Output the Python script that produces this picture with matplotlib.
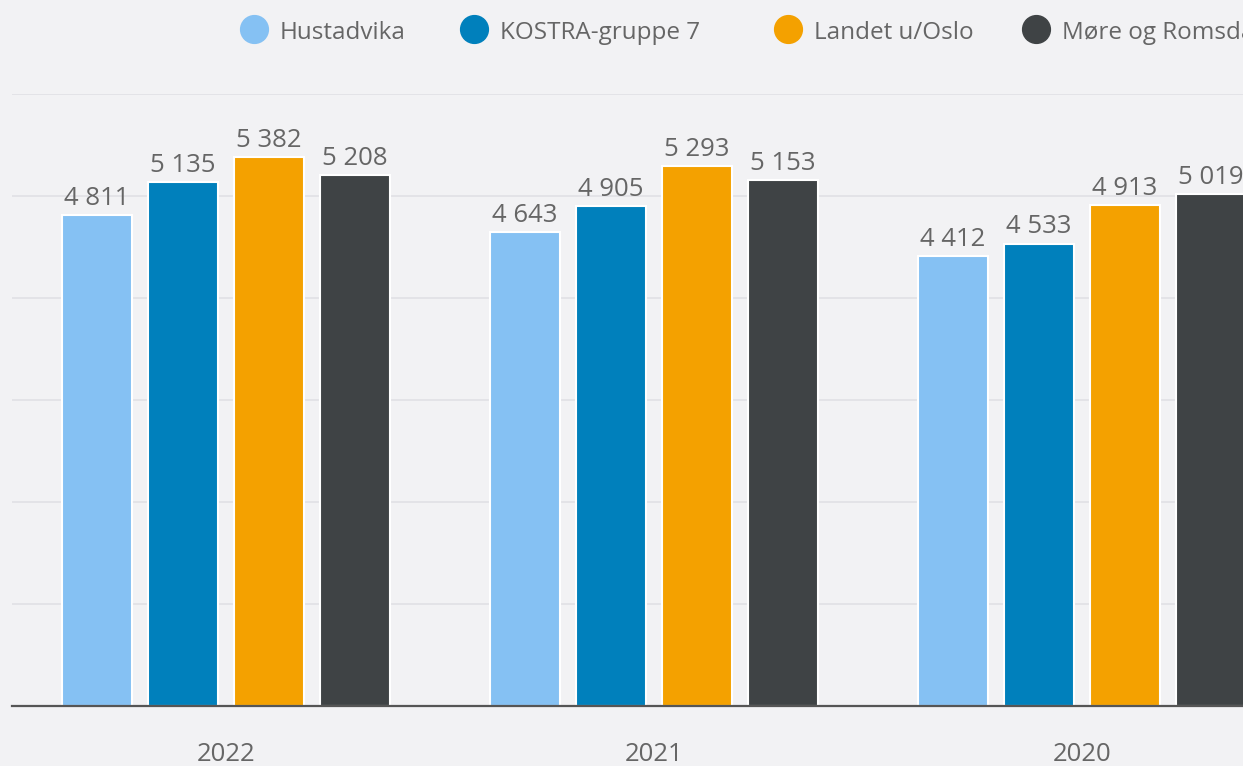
import matplotlib.pyplot as plt
import numpy as np

years = ['2022', '2021', '2020']
series = ['Hustadvika', 'KOSTRA-gruppe 7', 'Landet u/Oslo', 'Møre og Romsdal']
values = {
    'Hustadvika': [4811, 4643, 4412],
    'KOSTRA-gruppe 7': [5135, 4905, 4533],
    'Landet u/Oslo': [5382, 5293, 4913],
    'Møre og Romsdal': [5208, 5153, 5019],
}
colors = ['#85c1f3', '#0080bc', '#f4a100', '#3f4345']

bg = '#f2f2f4'
txt = '#666666'
plt.rcParams['font.family'] = ['Open Sans', 'DejaVu Sans']

W, H = 1243, 766
fig = plt.figure(figsize=(W / 100, H / 100), dpi=100, facecolor=bg)
# axes spans -0.5..2.5 in x, runs past the right edge like the original
ax = fig.add_axes([12 / W, 60 / H, 1284 / W, 612 / H], facecolor=bg)

x = np.arange(len(years))
pitch = 0.201
width = 0.165
for i, name in enumerate(series):
    pos = x + (i - 1.5) * pitch
    bars = ax.bar(pos, values[name], width, color=colors[i],
                  edgecolor='white', linewidth=1.5, zorder=3)
    for b, v in zip(bars, values[name]):
        ax.annotate(f'{v:,}'.replace(',', ' '),
                    (b.get_x() + b.get_width() / 2, b.get_height()),
                    xytext=(0, 3), textcoords='offset points',
                    ha='center', va='bottom', fontsize=18.5, color=txt,
                    zorder=4)

ax.set_xlim(-0.5, 2.5)
ax.set_ylim(0, 6000)
ax.set_yticks(np.arange(0, 6001, 1000))
ax.yaxis.grid(True, color='#e1e1e5', linewidth=1.2, zorder=0)
ax.tick_params(axis='y', left=False, labelleft=False)
ax.set_xticks(x)
ax.set_xticklabels(years, fontsize=18.5, color=txt)
ax.tick_params(axis='x', length=0, pad=26)
for s in ['top', 'right', 'left']:
    ax.spines[s].set_visible(False)
ax.spines['bottom'].set_color('#555555')
ax.spines['bottom'].set_linewidth(1.6)
ax.spines['bottom'].set_zorder(5)

# legend drawn by hand across the top
circle_x = [253.5, 474, 788, 1036]
for cx, name, c in zip(circle_x, series, colors):
    fig.add_artist(plt.Line2D([cx / W], [1 - 29 / H], marker='o', markersize=20,
                              color=c, linestyle='none'))
    fig.text((cx + 26) / W, 1 - 33 / H, name, fontsize=17.5, color=txt,
             ha='left', va='center')

fig.savefig('out.png', dpi=100, facecolor=bg)
